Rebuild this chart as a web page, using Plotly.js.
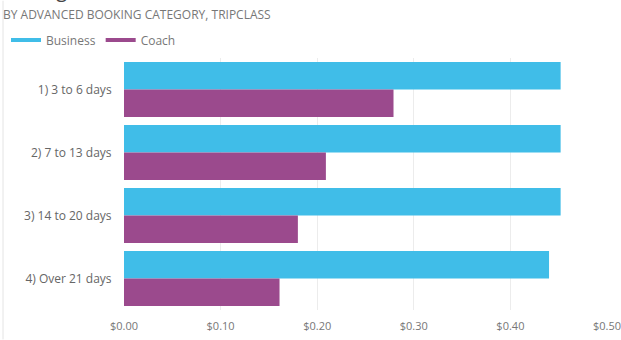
<!DOCTYPE html>
<html><head><meta charset="utf-8">
<script src="https://cdn.plot.ly/plotly-3.0.1.min.js"></script>
<style>html,body{margin:0;padding:0;background:#fff;}</style>
</head><body>
<div id="chart" style="width:621px;height:340px;"></div>
<script>
const categories = ["1) 3 to 6 days", "2) 7 to 13 days", "3) 14 to 20 days", "4) Over 21 days"];
const business = [0.452, 0.452, 0.452, 0.440];
const coach = [0.279, 0.209, 0.180, 0.161];
const tickVals = [0, 0.1, 0.2, 0.3, 0.4, 0.5];
const tickText = ["$0.00", "$0.10", "$0.20", "$0.30", "$0.40", "$0.50"];
const blue = "#40BDE8", purple = "#9B4A8D";

const traces = [
  {type:"bar", orientation:"h", name:"Business", y:categories, x:business, marker:{color:blue}, showlegend:false},
  {type:"bar", orientation:"h", name:"Coach", y:categories, x:coach, marker:{color:purple}, showlegend:false},
  {type:"scatter", mode:"lines", name:"Business", x:[null], y:[null], line:{color:blue, width:4}},
  {type:"scatter", mode:"lines", name:"Coach", x:[null], y:[null], line:{color:purple, width:4}}
];
const L=124, R=607, T=57.5, B=310.5, W=R-L, H=B-T;
const px = x => (x-L)/W, py = y => (B-y)/H;
const layout = {
  width:621, height:340,
  margin:{l:L, r:621-R, t:T, b:340-B, pad:0, autoexpand:false},
  paper_bgcolor:"#fff", plot_bgcolor:"#fff",
  font:{family:"Open Sans, sans-serif", color:"#666", size:12},
  barmode:"group", bargap:0.127, bargroupgap:0,
  xaxis:{range:[0,0.5], automargin:false, ticklabeloverflow:"allow", tickvals:tickVals, ticktext:tickText, showgrid:true, gridcolor:"#ececec", zeroline:false, showline:false, ticks:"outside", ticklen:6, tickcolor:"rgba(0,0,0,0)", tickfont:{size:11, color:"#777"}, fixedrange:true},
  yaxis:{autorange:"reversed", automargin:false, showgrid:false, zeroline:false, showline:false, ticks:"outside", ticklen:9, tickcolor:"rgba(0,0,0,0)", tickfont:{size:12, color:"#666"}},
  legend:{orientation:"h", xref:"container", yref:"container", x:6/621, y:1-40/340, xanchor:"left", yanchor:"middle", font:{size:12, color:"#777"}, bgcolor:"rgba(0,0,0,0)"},
  annotations:[
    {text:"Average Fare", xref:"paper", yref:"paper", x:px(1), y:py(4), xanchor:"left", yanchor:"bottom", showarrow:false, font:{size:20, color:"#444"}},
    {text:"BY ADVANCED BOOKING CATEGORY, TRIPCLASS", xref:"paper", yref:"paper", x:px(1), y:py(14), xanchor:"left", yanchor:"middle", showarrow:false, font:{size:12, color:"#777"}}
  ],
  shapes:[
    {type:"line", xref:"paper", yref:"paper", x0:px(3), x1:px(3), y0:py(340), y1:py(0), line:{color:"#e4e4e4", width:1}}
  ]
};
Plotly.newPlot("chart", traces, layout, {displayModeBar:false, staticPlot:true});
</script>
</body></html>
